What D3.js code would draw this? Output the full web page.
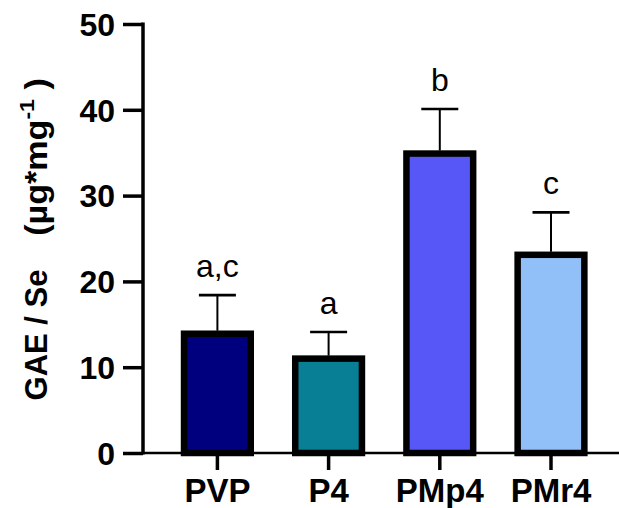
<!DOCTYPE html>
<html>
<head>
<meta charset="utf-8">
<script src="https://cdn.jsdelivr.net/npm/d3@7"></script>
<style>
  html, body { margin: 0; padding: 0; background: #fff; }
  svg { display: block; }
  text { font-family: "Liberation Sans", Arial, sans-serif; }
</style>
</head>
<body>
<svg id="chart" width="619" height="508"></svg>
<script>
// ---- data ----
const categories = ["PVP", "P4", "PMp4", "PMr4"];
const means = [13.9, 11.0, 34.9, 23.1];
const errors = [4.5, 3.1, 5.2, 4.95];
const letters = ["a,c", "a", "b", "c"];
const colors = ["#00007f", "#087f94", "#5757f8", "#91bff8"];
const yTicks = [0, 10, 20, 30, 40, 50];

// ---- layout ----
const svg = d3.select("#chart");
const y = d3.scaleLinear().domain([0, 50]).range([453, 24]);
const x = d3.scaleBand().domain(categories).range([161.8, 606.6])
  .paddingInner(0.4).paddingOuter(0.2);
const axisX = 143;

// bars
svg.append("g").selectAll("rect").data(categories).join("rect")
  .attr("x", d => x(d))
  .attr("y", (d, i) => y(means[i]))
  .attr("width", x.bandwidth())
  .attr("height", (d, i) => y(0) - y(means[i]))
  .attr("fill", (d, i) => colors[i])
  .attr("stroke", "#000")
  .attr("stroke-width", 6.5);

// error bars (upper only)
const eb = svg.append("g").attr("stroke", "#000");
categories.forEach((c, i) => {
  const cx = x(c) + x.bandwidth() / 2;
  eb.append("line").attr("x1", cx).attr("x2", cx)
    .attr("y1", y(means[i]) - 3).attr("y2", y(means[i] + errors[i]))
    .attr("stroke-width", 2);
  eb.append("line").attr("x1", cx - 18.5).attr("x2", cx + 18.5)
    .attr("y1", y(means[i] + errors[i])).attr("y2", y(means[i] + errors[i]))
    .attr("stroke-width", 2.6);
});

// significance letters
svg.append("g").selectAll("text").data(categories).join("text")
  .attr("x", d => x(d) + x.bandwidth() / 2)
  .attr("y", (d, i) => y(means[i] + errors[i]) - 18)
  .attr("text-anchor", "middle")
  .attr("font-size", 32)
  .attr("fill", "#000")
  .text((d, i) => letters[i]);

// y axis
const yAxis = svg.append("g").attr("transform", `translate(${axisX},0)`)
  .call(d3.axisLeft(y).tickValues(yTicks).tickSize(20).tickSizeOuter(0).tickPadding(8));
yAxis.select(".domain").attr("stroke-width", 3.5).attr("d", `M0,${y(50) - 1.5}V${y(0) + 1.5}`);
yAxis.selectAll(".tick line").attr("stroke-width", 3.5);
yAxis.selectAll(".tick text").attr("font-size", 32).attr("font-weight", "bold")
  .attr("font-family", "'Liberation Sans', Arial, sans-serif").attr("fill", "#000")
  .attr("dy", "0.35em");

// x axis
const xAxisG = svg.append("g").attr("transform", `translate(0,${y(0)})`);
xAxisG.append("line").attr("x1", axisX).attr("x2", 619).attr("y1", 0).attr("y2", 0)
  .attr("stroke", "#000").attr("stroke-width", 2.5);
xAxisG.selectAll("line.tk").data(categories).join("line").attr("class", "tk")
  .attr("x1", d => x(d) + x.bandwidth() / 2).attr("x2", d => x(d) + x.bandwidth() / 2)
  .attr("y1", 0).attr("y2", 17).attr("stroke", "#000").attr("stroke-width", 3.5);
xAxisG.selectAll("text").data(categories).join("text")
  .attr("x", d => x(d) + x.bandwidth() / 2).attr("y", 49)
  .attr("text-anchor", "middle").attr("font-size", 33).attr("font-weight", "bold")
  .attr("fill", "#000").text(d => d);

// y axis title
svg.append("text")
  .attr("transform", "translate(47,335) rotate(-90)")
  .attr("text-anchor", "middle").attr("font-size", 31).attr("font-weight", "bold")
  .attr("fill", "#000").text("GAE / Se");
const t2 = svg.append("text")
  .attr("transform", "translate(47,157) rotate(-90) scale(1.1,1)")
  .attr("text-anchor", "middle").attr("font-size", 31).attr("font-weight", "bold")
  .attr("fill", "#000").style("white-space", "pre");
t2.append("tspan").text("(µg*mg");
t2.append("tspan").attr("font-size", 21).attr("dy", -13).text("-1");
t2.append("tspan").attr("dy", 13).text(" )");
</script>
</body>
</html>
